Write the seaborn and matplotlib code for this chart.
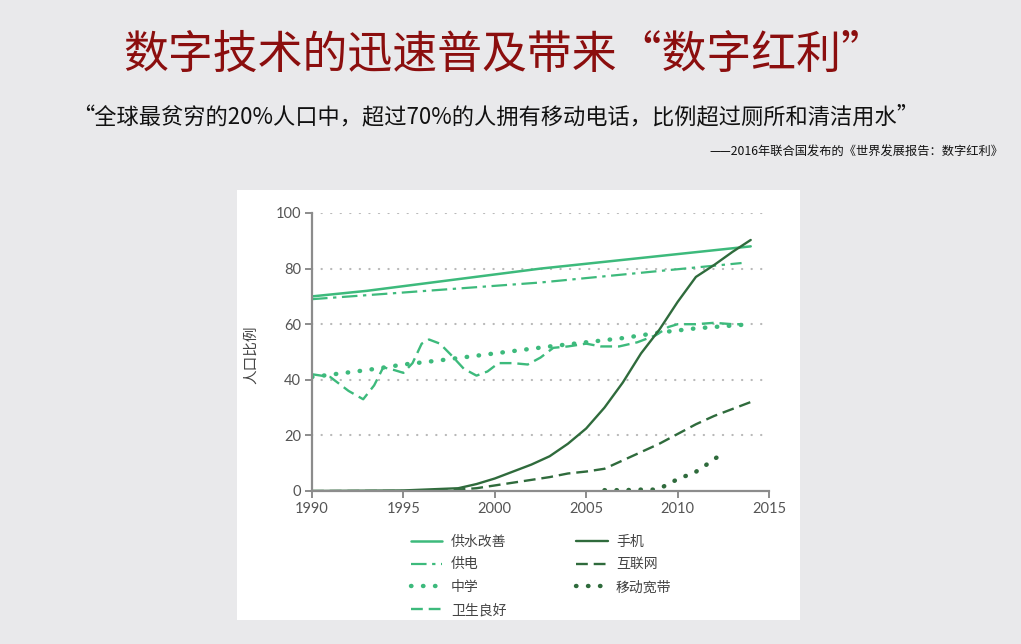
import numpy as np
import pandas as pd
import matplotlib
matplotlib.use("Agg")
import matplotlib.pyplot as plt
import matplotlib.patches as mpatches
import seaborn as sns

# ---------------- data ----------------
water_years = [1990, 1993, 2002.5, 2014]
water_vals = [70, 72, 80, 88]

power_years = [1990, 2002.5, 2013.5]
power_vals = [69, 75, 82]

school_years = [1990, 1993, 1995, 1997, 2000, 2003, 2005, 2007, 2009, 2011, 2014]
school_vals = [41, 43.5, 45.5, 47, 49.5, 52, 53.5, 55, 57, 58.5, 60]

sanit_years = [1990, 1991, 1992, 1992.8, 1993.4, 1993.9, 1994.5, 1995, 1995.5, 1996,
               1996.4, 1997, 1997.6, 1998.3, 1999, 1999.6, 2000.2, 2001, 2001.8,
               2002.5, 2003.2, 2004, 2005, 2005.8, 2006.8, 2007.8, 2008.8, 2009.5,
               2010, 2011, 2012, 2013, 2013.5]
sanit_vals = [42, 41, 36, 33, 38, 44.5, 43.5, 42.5, 46, 53,
              54.5, 53, 49, 44, 41.5, 43, 46, 46, 45.5,
              48, 51.5, 52, 53, 52, 52, 53.5, 56, 59,
              60, 60, 60.5, 60, 60]

phone_years = [1990, 1995, 1998, 1999, 2000, 2001, 2002, 2003, 2004, 2005, 2006,
               2007, 2008, 2009, 2010, 2011, 2012, 2013, 2014]
phone_vals = [0, 0.2, 1, 2.5, 4.5, 7, 9.5, 12.5, 17, 22.5, 30,
              39, 49.5, 58, 68, 77, 81.3, 86, 90.3]

net_years = [1990, 1997, 1999, 2000, 2001, 2002, 2003, 2004, 2005, 2006, 2007,
             2008, 2009, 2010, 2011, 2012, 2013, 2014]
net_vals = [0, 0, 1, 2, 3, 4, 5, 6.3, 7, 8, 11,
            14, 17, 20.5, 24, 27, 29.5, 32]

mbb_years = [2006, 2007, 2008, 2008.8, 2009.2, 2009.7, 2010.2, 2010.8, 2011.2,
             2011.7, 2012.1, 2012.6]
mbb_vals = [0.3, 0.3, 0.5, 0.5, 1.5, 3.2, 5, 6, 7.8, 10, 11.9, 13.7]

labels = ["供水改善", "供电", "中学", "卫生良好", "手机", "互联网", "移动宽带"]
y_ticks = [0, 20, 40, 60, 80, 100]
x_ticks = [1990, 1995, 2000, 2005, 2010, 2015]

title = "数字技术的迅速普及带来“数字红利”"
quote = "“全球最贫穷的20%人口中，超过70%的人拥有移动电话，比例超过厕所和清洁用水”"
source = "——2016年联合国发布的《世界发展报告：数字红利》"

# ---------------- style ----------------
sns.set_theme(style="white")
plt.rcParams['font.family'] = ['Noto Sans CJK SC', 'DejaVu Sans']

LIGHT = "#3dba7c"
DARK = "#2f6b3c"
BG = "#e9e9eb"

fig = plt.figure(figsize=(10.21, 6.44), dpi=100)
fig.patch.set_facecolor(BG)

# white panel
fig.add_artist(mpatches.Rectangle((237 / 1021, 1 - 620 / 644), (800 - 237) / 1021,
                                  (620 - 190) / 644, transform=fig.transFigure,
                                  facecolor="white", edgecolor="none", zorder=0))

ax = fig.add_axes([312 / 1021, 1 - 491 / 644, (769 - 312) / 1021, (491 - 213) / 644])
ax.set_facecolor("none")

series = [
    (water_years, water_vals, LIGHT, "-", 1.8, None),
    (power_years, power_vals, LIGHT, (0, (7, 2.5, 1.5, 2.5)), 1.6, None),
    (school_years, school_vals, LIGHT, (0, (0.1, 2.6)), 3.2, "round"),
    (sanit_years, sanit_vals, LIGHT, (0, (5, 2.5)), 1.7, None),
    (phone_years, phone_vals, DARK, "-", 1.7, None),
    (net_years, net_vals, DARK, (0, (5, 2.5)), 1.7, None),
    (mbb_years, mbb_vals, DARK, (0, (0.1, 2.6)), 3.2, "round"),
]

for (xs, ys, c, ls, lw, cap), lab in zip(series, labels):
    df = pd.DataFrame({"year": xs, "val": ys})
    sns.lineplot(data=df, x="year", y="val", ax=ax, color=c, linewidth=lw,
                 label=lab, sort=False, estimator=None)
    line = ax.get_lines()[-1]
    line.set_linestyle(ls)
    if cap:
        line.set_dash_capstyle(cap)

ax.set_xlim(1990, 2015)
ax.set_ylim(0, 100)
ax.set_xticks(x_ticks)
ax.set_yticks(y_ticks)
for yv in y_ticks[1:]:
    ax.axhline(yv, color="#b8b8b8", lw=1.6, ls=(0, (0.1, 4.2)),
               dash_capstyle="round", zorder=0)

for s in ["top", "right"]:
    ax.spines[s].set_visible(False)
for s in ["left", "bottom"]:
    ax.spines[s].set_color("#8c8c8c")
    ax.spines[s].set_linewidth(1.6)
ax.tick_params(axis="both", which="major", direction="out", length=5, width=1.4,
               color="#8c8c8c", labelcolor="#555555", labelsize=10.5, pad=3,
               bottom=True, left=True)
for t in ax.get_xticklabels() + ax.get_yticklabels():
    t.set_family(['Lato', 'DejaVu Sans'])
ax.set_xlabel("")
ax.set_ylabel("人口比例", fontsize=10.5, color="#444444")
ax.yaxis.set_label_coords(-0.118, 0.49)

handles, labs = ax.get_legend_handles_labels()
ax.get_legend().remove()
leg = fig.legend(handles, labs, ncol=2, frameon=False,
                 loc="upper left", bbox_to_anchor=(398 / 1021, 1 - 522 / 644),
                 fontsize=10, handlelength=2.3, handletextpad=0.6,
                 columnspacing=5.0, labelspacing=0.64)
for t in leg.get_texts():
    t.set_color("#444444")

fig.text(505 / 1021, 1 - 55 / 644, title, ha="center", va="center",
         fontsize=32.3, color="#8b0e0e")
fig.text(72 / 1021, 1 - 117 / 644, quote, ha="left", va="center",
         fontsize=16, color="#111111")
fig.text(1003 / 1021, 1 - 152 / 644, source, ha="right", va="center",
         fontsize=8.8, color="#111111")

fig.savefig("out.png", dpi=100, facecolor=BG)
